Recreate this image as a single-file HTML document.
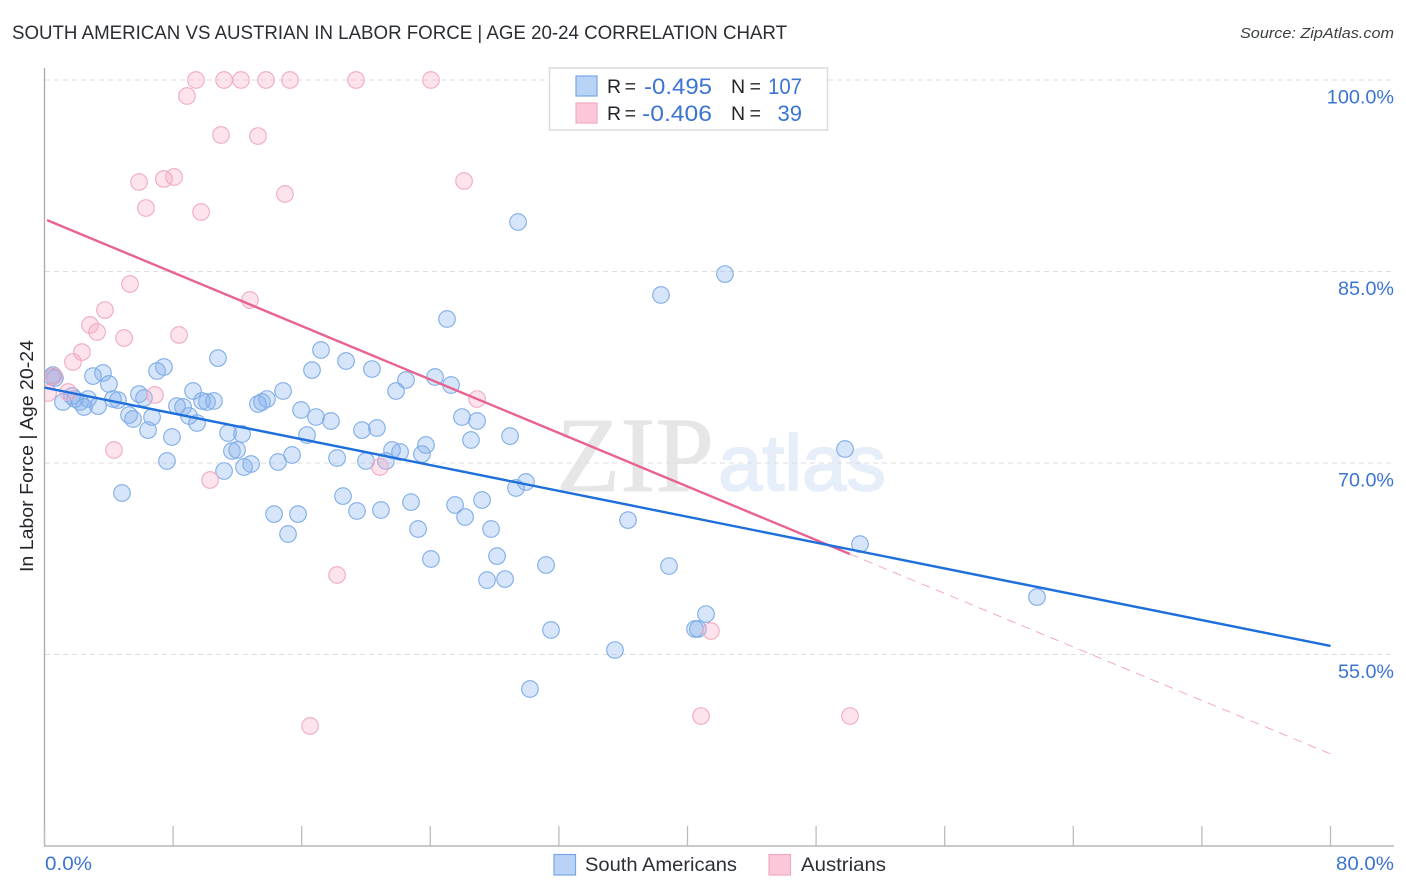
<!DOCTYPE html>
<html lang="en">
<head>
<meta charset="utf-8">
<title>South American vs Austrian in Labor Force | Age 20-24 Correlation Chart</title>
<style>
html,body{margin:0;padding:0;background:#fff;}
svg{display:block;font-family:"Liberation Sans",sans-serif;}
</style>
</head>
<body>
<svg id="chart" width="1406" height="892" viewBox="0 0 1406 892" xmlns="http://www.w3.org/2000/svg">
  <defs>
    <clipPath id="plot-clip"><rect x="45" y="60" width="1349" height="786"/></clipPath>
  </defs>
  <rect x="0" y="0" width="1406" height="892" fill="#ffffff"/>
  <text x="12" y="39" font-size="19" fill="#2a2e33" textLength="775" lengthAdjust="spacingAndGlyphs">SOUTH AMERICAN VS AUSTRIAN IN LABOR FORCE | AGE 20-24 CORRELATION CHART</text>
  <text x="1394" y="38" font-size="15" font-style="italic" fill="#3c4043" text-anchor="end" textLength="154" lengthAdjust="spacingAndGlyphs">Source: ZipAtlas.com</text>

  <g id="watermark">
    <text x="556" y="491" font-family="'Liberation Serif',serif" font-size="107" fill="#e6e6e6" stroke="#e6e6e6" stroke-width="0.8" textLength="158" lengthAdjust="spacingAndGlyphs">ZIP</text>
    <text x="718" y="490" font-family="'Liberation Sans',sans-serif" font-size="79" fill="#e6eefa" stroke="#e6eefa" stroke-width="1.8" textLength="168" lengthAdjust="spacingAndGlyphs">atlas</text>
  </g>

  <g id="grid"></g>
  <g id="axes"></g>
  <g id="points-blue" clip-path="url(#plot-clip)"></g>
  <g id="points-pink" clip-path="url(#plot-clip)"></g>
  <g id="trends"></g>
  <g id="tick-labels"></g>

  <text transform="translate(33,456) rotate(-90)" font-size="18.5" fill="#22262b" text-anchor="middle" textLength="232" lengthAdjust="spacingAndGlyphs">In Labor Force | Age 20-24</text>

  <g>
    <rect x="549.5" y="68" width="278" height="62" fill="#ffffff" stroke="#dcdcdc" stroke-width="1.5"/>
    <rect x="576" y="76" width="21" height="20" fill="#b8d3f6" stroke="#79a7e3" stroke-width="1.2"/>
    <rect x="576" y="103" width="21" height="20" fill="#fcc7d8" stroke="#eeabc0" stroke-width="1.2"/>
    <text x="607" y="93" font-size="19.5" fill="#22262b" textLength="29" lengthAdjust="spacing">R =</text>
    <text x="644" y="94" font-size="22" fill="#3b74d1" textLength="68" lengthAdjust="spacingAndGlyphs">-0.495</text>
    <text x="731" y="93" font-size="19.5" fill="#22262b" textLength="30" lengthAdjust="spacing">N =</text>
    <text x="768" y="94" font-size="22" fill="#3b74d1" textLength="34" lengthAdjust="spacingAndGlyphs">107</text>
    <text x="607" y="120" font-size="19.5" fill="#22262b" textLength="29" lengthAdjust="spacing">R =</text>
    <text x="642" y="121" font-size="22" fill="#3b74d1" textLength="70" lengthAdjust="spacingAndGlyphs">-0.406</text>
    <text x="731" y="120" font-size="19.5" fill="#22262b" textLength="30" lengthAdjust="spacing">N =</text>
    <text x="802" y="121" font-size="22" fill="#3b74d1" text-anchor="end">39</text>
  </g>

  <g>
    <rect x="554" y="854.5" width="21.5" height="20.5" fill="#b8d3f6" stroke="#79a7e3" stroke-width="1.2"/>
    <text x="585" y="871" font-size="19.5" fill="#2b2f36" textLength="152" lengthAdjust="spacingAndGlyphs">South Americans</text>
    <rect x="769" y="854.5" width="21.5" height="20.5" fill="#fcc7d8" stroke="#eeabc0" stroke-width="1.2"/>
    <text x="801" y="871" font-size="19.5" fill="#2b2f36" textLength="85" lengthAdjust="spacingAndGlyphs">Austrians</text>
  </g>
</svg>

<script>
const yTickValues = [100, 85, 70, 55];
const yTickLabels = ["100.0%", "85.0%", "70.0%", "55.0%"];
const xTickValues = [0, 8, 16, 24, 32, 40, 48, 56, 64, 72, 80];
const xEndLabels = ["0.0%", "80.0%"];

const southAmericanX = [29.46,42.33,38.35,25.04,17.20,10.79,18.76,7.43,7.00,3.64,3.02,4.01,16.64,20.37,22.49,24.29,25.29,21.87,14.84,9.24,5.88,6.19,10.54,10.11,9.80,13.84,13.53,13.28,4.57,4.26,2.71,1.71,1.90,2.21,1.15,2.46,3.33,8.24,8.62,8.99,9.49,5.26,5.51,6.69,6.44,7.93,15.96,16.89,17.82,16.33,11.42,12.29,19.75,20.68,25.97,26.91,26.53,28.96,23.73,23.48,21.62,22.12,18.20,15.40,20.00,21.24,14.53,12.85,12.41,11.17,11.66,11.98,7.62,4.82,49.80,29.95,29.33,18.57,22.80,25.54,27.22,19.44,20.93,14.28,15.77,26.16,36.30,23.24,27.78,15.15,50.73,28.15,24.04,31.20,38.85,27.53,28.65,61.74,41.15,31.51,40.47,40.65,35.49,30.20,0.53,0.47,0.65];
const southAmericanY = [88.88,84.80,83.16,81.28,78.85,78.22,77.99,77.52,77.21,77.05,76.81,76.19,77.28,77.36,76.50,76.74,76.11,75.64,75.64,75.64,75.40,75.09,74.86,74.78,74.86,75.01,74.78,74.62,74.93,75.01,75.01,75.25,75.01,74.78,74.78,74.39,74.46,74.46,74.39,73.68,73.13,73.76,73.45,73.60,72.58,72.04,74.15,73.60,73.29,72.19,72.35,72.27,72.58,72.74,73.60,73.29,71.80,72.11,71.41,70.70,71.02,70.86,70.39,70.63,70.16,70.16,70.08,69.92,69.69,69.37,70.94,71.02,70.16,67.65,71.10,68.51,68.04,67.41,66.94,66.71,67.10,66.24,66.32,66.00,66.00,65.77,65.53,64.83,64.83,64.44,63.65,62.71,62.48,62.01,61.93,60.83,60.91,59.50,58.17,56.92,57.00,57.00,55.35,52.30,76.89,76.74,76.66];

const austrianX = [9.42,11.17,12.22,13.78,15.27,19.38,24.04,8.86,10.98,13.28,5.88,7.43,8.06,26.10,14.96,6.31,9.74,5.32,12.78,3.76,2.83,3.27,4.95,8.37,2.33,1.77,26.91,6.87,1.46,0.22,4.32,10.30,20.87,18.20,41.46,40.84,50.11,16.52,0.59];
const austrianY = [100,100,100,100,100,100,100,98.75,95.69,95.61,92.01,92.25,92.40,92.09,91.07,89.97,89.66,84.02,82.77,81.98,80.81,80.26,79.79,80.03,78.69,77.91,75.01,75.33,75.56,75.48,71.02,68.67,69.69,61.23,56.84,50.18,50.18,49.40,76.81];

const southAmericanTrendEnds = [75.91, 55.67];
const austrianTrendEnds = [89.11, 47.21];
const trendDomain = [0, 80];
const austrianSolidEnd = 50.1;

const NS = "http://www.w3.org/2000/svg";
function xScale(v){ return 44.5 + v * 16.075; }
function yScale(v){ return 80 + (100 - v) * 12.767; }
function make(tag, attrs, parent){
  const el = document.createElementNS(NS, tag);
  for (const k in attrs) el.setAttribute(k, attrs[k]);
  parent.appendChild(el);
  return el;
}
function trendAt(ends, x){
  return ends[0] + (ends[1] - ends[0]) * (x - trendDomain[0]) / (trendDomain[1] - trendDomain[0]);
}
function labelWidth(s){ return s.length * 11.2; }

const grid = document.getElementById("grid");
const axes = document.getElementById("axes");
const labels = document.getElementById("tick-labels");
const trends = document.getElementById("trends");

yTickValues.forEach(function(v, i){
  const line = make("line", {x1: 45, x2: 1394, y1: yScale(v), y2: yScale(v), stroke: "#dedede", "stroke-width": 1, "stroke-dasharray": "5 4"}, grid);
  
  
  const w = labelWidth(yTickLabels[i]);
  const t = make("text", {x: 1394 - w, y: yScale(v) + 23.3, "font-size": 19.5, fill: "#3b74d1", textLength: w, lengthAdjust: "spacingAndGlyphs"}, labels);
  t.textContent = yTickLabels[i];
  
  
});

const yAxis = make("line", {x1: 44.5, x2: 44.5, y1: 68, y2: 846.5, stroke: "#aaaaaa", "stroke-width": 1.3}, axes);


const xAxis = make("line", {x1: 44, x2: 1394, y1: 846, y2: 846, stroke: "#aaaaaa", "stroke-width": 1.3}, axes);



xTickValues.forEach(function(v){
  const tick = make("line", {x1: xScale(v), x2: xScale(v), y1: 826, y2: 846, stroke: "#bcbcbc", "stroke-width": 1.3}, axes);
  
  
});

const xLabelStart = make("text", {x: 45, y: 870, "font-size": 19.5, fill: "#3b74d1", textLength: 47, lengthAdjust: "spacingAndGlyphs"}, labels);
xLabelStart.textContent = xEndLabels[0];


const xLabelEnd = make("text", {x: 1336, y: 870, "font-size": 19.5, fill: "#3b74d1", textLength: 58, lengthAdjust: "spacingAndGlyphs"}, labels);
xLabelEnd.textContent = xEndLabels[1];



const blueGroup = document.getElementById("points-blue");
southAmericanX.forEach(function(x, i){
  const c = make("circle", {cx: xScale(x), cy: yScale(southAmericanY[i]), r: 8.3, fill: "rgba(130,175,238,0.33)", stroke: "#7fade8", "stroke-width": 1.1}, blueGroup);
  
  
});

const pinkGroup = document.getElementById("points-pink");
austrianX.forEach(function(x, i){
  const c = make("circle", {cx: xScale(x), cy: yScale(austrianY[i]), r: 8.3, fill: "rgba(248,170,195,0.33)", stroke: "#f0aac1", "stroke-width": 1.1}, pinkGroup);
  
  
});

const pinkDash = make("line", {x1: xScale(austrianSolidEnd), y1: yScale(trendAt(austrianTrendEnds, austrianSolidEnd)), x2: xScale(trendDomain[1]), y2: yScale(trendAt(austrianTrendEnds, trendDomain[1])), stroke: "#ea6f98", "stroke-width": 1, "stroke-dasharray": "9 6.5", opacity: 0.6}, trends);


const pinkLine = make("line", {x1: xScale(0.16), y1: yScale(trendAt(austrianTrendEnds, 0.16)), x2: xScale(austrianSolidEnd), y2: yScale(trendAt(austrianTrendEnds, austrianSolidEnd)), stroke: "#e8638f", "stroke-width": 2.4}, trends);


const blueLine = make("line", {x1: xScale(trendDomain[0]), y1: yScale(trendAt(southAmericanTrendEnds, trendDomain[0])), x2: xScale(trendDomain[1]), y2: yScale(trendAt(southAmericanTrendEnds, trendDomain[1])), stroke: "#1e6fdc", "stroke-width": 2.4}, trends);


</script>
</body>
</html>
